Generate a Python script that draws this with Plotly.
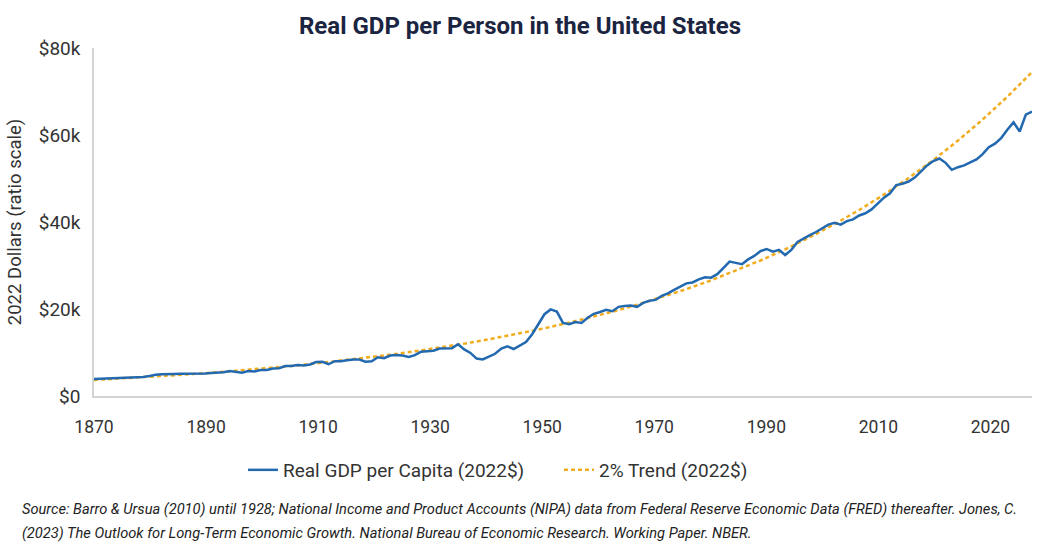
import plotly.graph_objects as go
import numpy as np

# ---------------- data ----------------
years = list(range(1870, 2023))

gdp_per_capita_k = [
    # 1870-1879
    3.9, 3.95, 4.0, 4.05, 4.0, 4.1, 4.1, 4.2, 4.35, 4.6,
    # 1880-1889
    4.9, 5.0, 5.1, 5.05, 5.1, 5.1, 5.15, 5.2, 5.2, 5.3,
    # 1890-1899
    5.4, 5.45, 5.75, 5.5, 5.35, 5.75, 5.65, 5.95, 6.0, 6.3,
    # 1900-1909
    6.4, 6.9, 6.9, 7.1, 7.0, 7.25, 7.8, 7.85, 7.3, 8.0,
    # 1910-1919
    8.0, 8.2, 8.4, 8.4, 7.9, 8.0, 8.9, 8.7, 9.3, 9.4,
    # 1920-1929
    9.3, 9.0, 9.4, 10.2, 10.3, 10.4, 10.9, 10.9, 11.0, 11.9,
    # 1930-1939
    10.7, 9.9, 8.6, 8.4, 9.0, 9.7, 10.9, 11.4, 10.8, 11.6,
    # 1940-1949
    12.4, 14.2, 16.6, 18.8, 19.9, 19.4, 16.8, 16.5, 17.0, 16.8,
    # 1950-1959
    18.0, 18.9, 19.3, 19.8, 19.5, 20.5, 20.7, 20.8, 20.5, 21.4,
    # 1960-1969
    21.9, 22.1, 23.0, 23.6, 24.4, 25.1, 25.9, 26.1, 26.8, 27.3,
    # 1970-1979
    27.2, 28.0, 29.5, 30.9, 30.6, 30.3, 31.4, 32.2, 33.3, 33.8,
    # 1980-1989
    33.2, 33.6, 32.4, 33.6, 35.4, 36.3, 37.0, 37.7, 38.6, 39.4,
    # 1990-1999
    39.8, 39.4, 40.2, 40.6, 41.5, 42.0, 42.9, 44.2, 45.6, 46.6,
    # 2000-2009
    48.5, 48.8, 49.3, 50.2, 51.6, 53.0, 54.0, 54.6, 53.6, 52.0,
    # 2010-2019
    52.6, 53.0, 53.7, 54.4, 55.6, 57.2, 58.0, 59.3, 61.2, 62.9,
    # 2020-2022
    60.8, 64.7, 65.4,
]

trend_years = list(range(1870, 2023, 4))
trend_k = [
    3.670, 3.973, 4.300, 4.655, 5.038, 5.454, 5.903, 6.390, 6.917, 7.487,
    8.104, 8.772, 9.495, 10.278, 11.125, 12.042, 13.034, 14.109, 15.272, 16.531,
    17.894, 19.368, 20.965, 22.693, 24.564, 26.589, 28.780, 31.153, 33.721, 36.501,
    39.510, 42.766, 46.292, 50.108, 54.239, 58.710, 63.549, 68.788, 74.459,
]

y_tick_vals = [0, 20, 40, 60, 80]
y_tick_text = ["$0", "$20k", "$40k", "$60k", "$80k"]
x_tick_text = ["1870", "1890", "1910", "1930", "1950", "1970", "1990", "2010", "2020"]

title_text = "Real GDP per Person in the United States"
y_title = "2022 Dollars (ratio scale)"
series_name = "Real GDP per Capita (2022$)"
trend_name = "2% Trend (2022$)"
source_line1 = ("Source: Barro &amp; Ursua (2010) until 1928; National Income and Product Accounts (NIPA) data from "
                "Federal Reserve Economic Data (FRED) thereafter. Jones, C.")
source_line2 = ("(2023) The Outlook for Long-Term Economic Growth. National Bureau of Economic Research. "
                "Working Paper. NBER.")

# ---------------- figure ----------------
BLUE = "#2369b0"
ORANGE = "#f0ac1c"
FONT = "Roboto"
PLOT_L, PLOT_R, PLOT_T, PLOT_B = 94, 1032, 48, 396
PW, PH = PLOT_R - PLOT_L, PLOT_B - PLOT_T

def px_x(px):
    return (px - PLOT_L) / PW

def px_y(py):
    return (PLOT_B - py) / PH

# tick labels are evenly spaced along the axis as in the reference
x_tick_pos = list(np.linspace(years[0], years[0] + (years[-1] - years[0]) * 0.9557, len(x_tick_text)))

fig = go.Figure()
fig.add_trace(go.Scatter(
    x=trend_years, y=trend_k, mode="lines", name=trend_name,
    line=dict(color=ORANGE, width=2.5, dash="4px,3px"),
))
fig.add_trace(go.Scatter(
    x=years, y=gdp_per_capita_k, mode="lines", name=series_name,
    line=dict(color=BLUE, width=2.5),
))

fig.update_layout(
    width=1040, height=556,
    margin=dict(l=PLOT_L, r=1040 - PLOT_R, t=PLOT_T, b=556 - PLOT_B),
    paper_bgcolor="white", plot_bgcolor="white",
    font=dict(family=FONT, color="#333333", size=17),
    title=dict(text="<b>" + title_text + "</b>", x=0.5, xanchor="center",
               y=1 - 26 / 556, yanchor="middle", yref="container",
               font=dict(family=FONT, size=24, color="#1b2440")),
    showlegend=True,
    legend=dict(orientation="h", x=px_x(243), xanchor="left", y=px_y(470), yanchor="middle",
                traceorder="reversed", font=dict(size=19, color="#333333"),
                entrywidth=271, entrywidthmode="pixels"),
    xaxis=dict(range=[years[0], years[-1]], tickvals=x_tick_pos, ticktext=x_tick_text,
               showgrid=False, zeroline=False, showline=True, linecolor="#d4d4d4", linewidth=1.5,
               ticks="", ticklabelstandoff=14, tickfont=dict(size=17.5, color="#333333")),
    yaxis=dict(range=[0, 80], tickvals=y_tick_vals, ticktext=y_tick_text,
               showgrid=False, zeroline=False, showline=True, linecolor="#d4d4d4", linewidth=1.5,
               ticks="", ticklabelstandoff=8, tickfont=dict(size=19, color="#333333"),
               title=dict(text=y_title, standoff=12, font=dict(size=18.5, color="#333333"))),
    annotations=[
        dict(text="<i>" + source_line1 + "</i>", xref="paper", yref="paper",
             x=px_x(20), y=px_y(509), xanchor="left", yanchor="middle", align="left",
             showarrow=False, font=dict(family=FONT, size=14.65, color="#222222")),
        dict(text="<i>" + source_line2 + "</i>", xref="paper", yref="paper",
             x=px_x(20), y=px_y(533), xanchor="left", yanchor="middle", align="left",
             showarrow=False, font=dict(family=FONT, size=14.65, color="#222222")),
    ],
)

fig.write_html("out.html")
